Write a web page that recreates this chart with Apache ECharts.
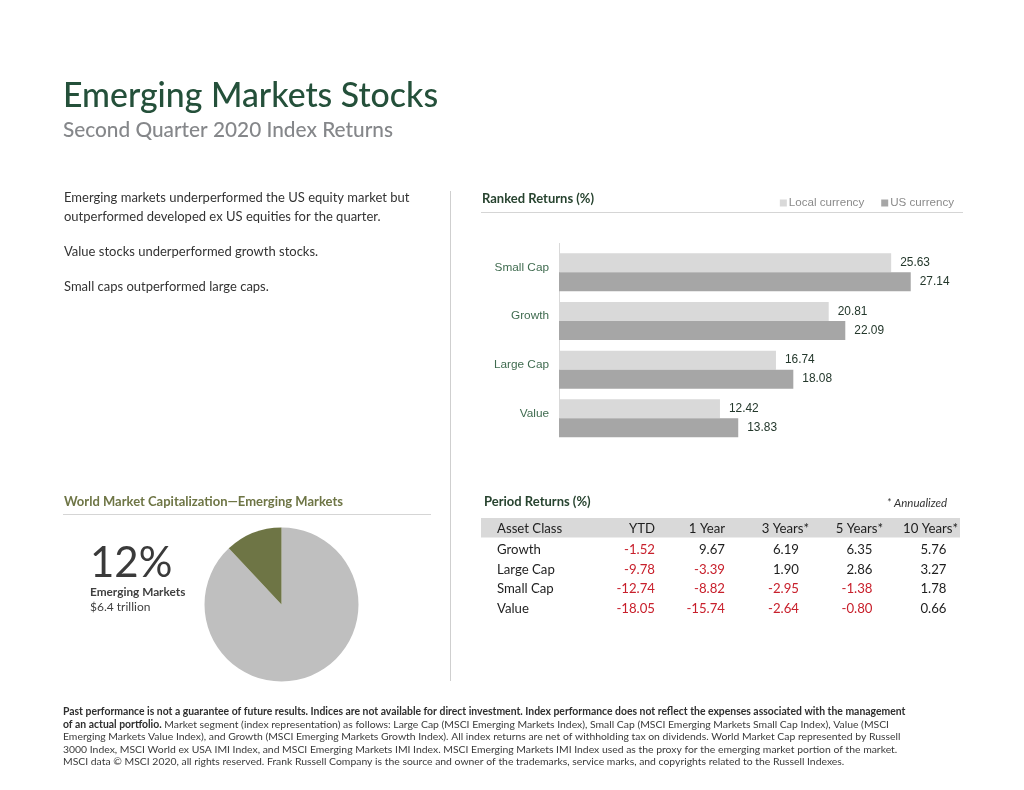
<!DOCTYPE html>
<html><head><meta charset="utf-8">
<style>html,body{margin:0;padding:0;background:#fff}#c{width:1024px;height:790px}</style>
<script src="https://cdn.jsdelivr.net/npm/echarts@6/dist/echarts.min.js"></script>
</head><body><div id="c"></div>
<script>
const rankedCategories = ['Small Cap','Growth','Large Cap','Value'];
const localCurrency = [25.63,20.81,16.74,12.42];
const usCurrency = [27.14,22.09,18.08,13.83];
const pieNames = ['Rest of World','Emerging Markets'];
const pieValues = [88,12];
const tableHeaders = ['Asset Class','YTD','1 Year','3 Years*','5 Years*','10 Years*'];
const tableRows = ['Growth','Large Cap','Small Cap','Value'];
const ytd = ['-1.52','-9.78','-12.74','-18.05'];
const oneYear = ['9.67','-3.39','-8.82','-15.74'];
const threeYears = ['6.19','1.90','-2.95','-2.64'];
const fiveYears = ['6.35','2.86','-1.38','-0.80'];
const tenYears = ['5.76','3.27','1.78','0.66'];
const intro = [['Emerging markets underperformed the US equity market but',198],['outperformed developed ex US equities for the quarter.',217],['Value stocks underperformed growth stocks.',252],['Small caps outperformed large caps.',287]];
const footnote = [
 '{b|Past performance is not a guarantee of future results. Indices are not available for direct investment. Index performance does not reflect the expenses associated with the management}',
 '{b|of an actual portfolio.} {n|Market segment (index representation) as follows: Large Cap (MSCI Emerging Markets Index), Small Cap (MSCI Emerging Markets Small Cap Index), Value (MSCI}',
 '{n|Emerging Markets Value Index), and Growth (MSCI Emerging Markets Growth Index). All index returns are net of withholding tax on dividends. World Market Cap represented by Russell}',
 '{n|3000 Index, MSCI World ex USA IMI Index, and MSCI Emerging Markets IMI Index. MSCI Emerging Markets IMI Index used as the proxy for the emerging market portion of the market.}',
 '{n|MSCI data © MSCI 2020, all rights reserved. Frank Russell Company is the source and owner of the trademarks, service marks, and copyrights related to the Russell Indexes.}'
];

const LATO = 'Lato', ARIAL = 'Liberation Sans';
const txt = (x,y,text,o={}) => ({type:'text',x,y,silent:true,style:Object.assign({text,fontFamily:LATO,fontSize:13,fill:'#333',align:'left',verticalAlign:'middle'},o)});
const line = (x1,y1,x2,y2,c) => ({type:'line',silent:true,shape:{x1,y1,x2,y2},style:{stroke:c,lineWidth:1}});
const g = [];
g.push(txt(63,96,'Emerging Markets Stocks',{fontSize:33.8,fontWeight:500,fill:'#24503a'}));
g.push(txt(63,130,'Second Quarter 2020 Index Returns',{fontSize:20.8,fontWeight:500,fill:'#85878a'}));
intro.forEach(([t,y])=>g.push(txt(64,y,t,{fontSize:13,fill:'#333'})));
g.push(line(450.5,191,450.5,681,'#cfcfcf'));
g.push(line(481,212.5,963,212.5,'#d5d5d5'));
g.push(line(63,514.5,431,514.5,'#d5d5d5'));
g.push(line(559.5,243,559.5,437,'#d9d9d9'));
g.push(txt(482,199,'Ranked Returns (%)',{fontSize:13,fontWeight:'bold',fill:'#27432f'}));
g.push(txt(64,502,'World Market Capitalization—Emerging Markets',{fontSize:13,fontWeight:'bold',fill:'#6e7545'}));
g.push(txt(90,563,'12%',{fontSize:42,fill:'#3a3a3a',fontWeight:400}));
g.push(txt(90,592.5,'Emerging Markets',{fontSize:11.8,fontWeight:'bold',fill:'#3f3f3f'}));
g.push(txt(90,607.5,'$6.4 trillion',{fontSize:12,fill:'#3f3f3f'}));
g.push(txt(484,501.5,'Period Returns (%)',{fontSize:13,fontWeight:'bold',fill:'#27432f'}));
g.push(txt(947,503.5,'* Annualized',{fontSize:11.5,fontStyle:'italic',align:'right',fill:'#333'}));
g.push({type:'rect',silent:true,z:-1,shape:{x:481,y:518,width:479,height:19.5},style:{fill:'#d9d9d9'}});
const headRight = [0,655,725,809,883,958];
const numRight = [655,725,799,872.5,946.5];
tableHeaders.forEach((h,i)=>g.push(i===0?txt(497,529,h,{fontSize:13.2,fill:'#1e1e1e'}):txt(headRight[i],529,h,{fontSize:13.2,fill:'#1e1e1e',align:'right'})));
const rowY = [550,569.5,589,608.5];
const cols = [ytd,oneYear,threeYears,fiveYears,tenYears];
tableRows.forEach((r,j)=>{
  g.push(txt(497,rowY[j],r,{fontSize:13.2,fill:'#1e1e1e'}));
  cols.forEach((c,i)=>g.push(txt(numRight[i],rowY[j],c[j],{fontSize:13.2,align:'right',fill:c[j][0]==='-'?'#c8202c':'#1e1e1e'})));
});
const footY = [712,724.5,737,749.5,762];
footnote.forEach((t,i)=>g.push({type:'text',silent:true,x:63,y:footY[i],style:{text:t,verticalAlign:'middle',fontFamily:LATO,fontSize:10.4,fill:'#3a3a3a',
  rich:{b:{fontFamily:LATO,fontSize:10.4,fontWeight:'bold',fill:'#2e2e2e'},n:{fontFamily:LATO,fontSize:10.4,fill:'#3a3a3a'}}}}));

const chart = echarts.init(document.getElementById('c'),null,{renderer:'canvas'});
const valueLabel = {show:true,position:'right',distance:9,color:'#24382c',fontFamily:ARIAL,fontSize:11.9,formatter:p=>p.value.toFixed(2)};
chart.setOption({
  animation:false,
  backgroundColor:'#fff',
  textStyle:{fontFamily:ARIAL},
  legend:{top:192,right:65,itemWidth:7,itemHeight:7,itemGap:17,icon:'rect',
    data:['Local currency','US currency'],
    textStyle:{color:'#8a8a8a',fontFamily:ARIAL,fontSize:11.6,padding:[0,0,0,-3]}},
  grid:{left:559,top:248,width:388.8,height:194.6,containLabel:false},
  xAxis:{type:'value',min:0,max:30,show:false},
  yAxis:{type:'category',inverse:true,data:rankedCategories,
    axisLine:{show:false},axisTick:{show:false},
    axisLabel:{margin:10,color:'#3f6b4f',fontFamily:ARIAL,fontSize:11.8,lineHeight:10,verticalAlign:'bottom'}},
  series:[
    {name:'Local currency',type:'bar',data:localCurrency,barWidth:19,barGap:'0%',itemStyle:{color:'#d9d9d9'},label:valueLabel},
    {name:'US currency',type:'bar',data:usCurrency,barWidth:19,itemStyle:{color:'#a6a6a6'},label:valueLabel},
    {type:'pie',center:[281.5,604.5],radius:[0,77],startAngle:90,silent:true,label:{show:false},labelLine:{show:false},
     data:pieNames.map((n,i)=>({name:n,value:pieValues[i],itemStyle:{color:['#bfbfbf','#6e7545'][i]}}))}
  ],
  graphic:{elements:g}
});
</script></body></html>
